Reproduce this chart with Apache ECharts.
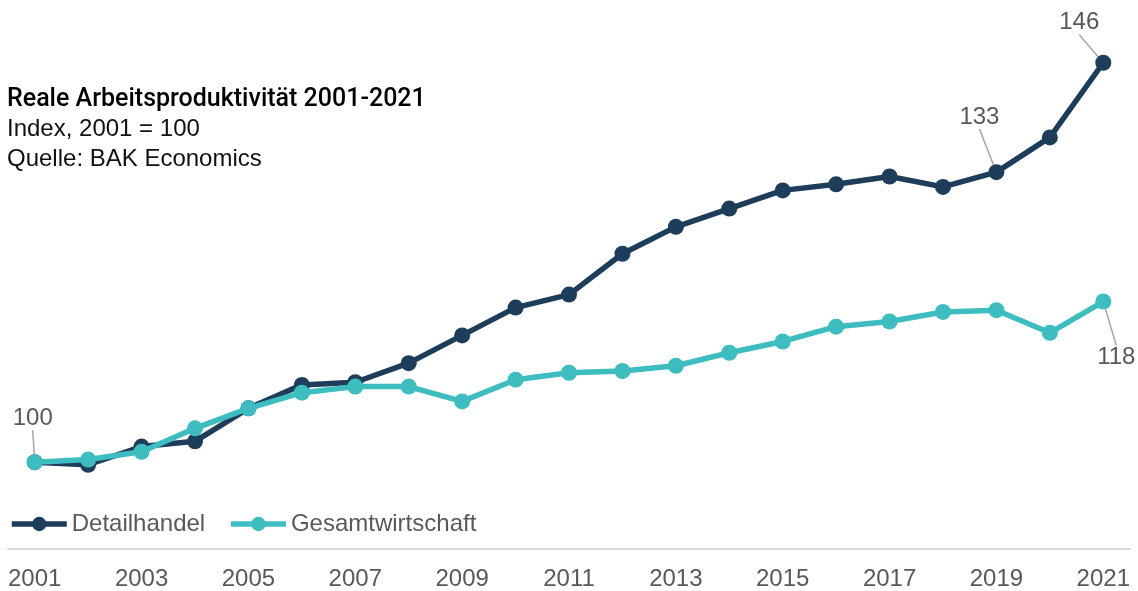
<!DOCTYPE html>
<html>
<head>
<meta charset="utf-8">
<script src="https://cdn.jsdelivr.net/npm/echarts@6/dist/echarts.min.js"></script>
<style>
  html, body { margin: 0; padding: 0; background: #fff; }
  #main { width: 1138px; height: 591px; }
</style>
</head>
<body>
<div id="main"></div>
<script>
// Jahre
const years = ['2001', '2002', '2003', '2004', '2005', '2006', '2007', '2008', '2009', '2010',
  '2011', '2012', '2013', '2014', '2015', '2016', '2017', '2018', '2019', '2020', '2021']

// Index, 2001 = 100
const detailhandel = [100, 99.7, 101.8, 102.4, 106.2, 108.9, 109.2, 111.4, 114.6, 117.8,
  119.3, 124.0, 127.1, 129.2, 131.3, 132.0, 132.9, 131.7, 133.4, 137.4, 146.0]
const gesamtwirtschaft = [100, 100.3, 101.2, 103.9, 106.2, 108.0, 108.7, 108.7, 107.0, 109.5,
  110.3, 110.5, 111.1, 112.6, 113.9, 115.6, 116.2, 117.3, 117.5, 114.9, 118.5]

// welche Punkte beschriftet werden
const labelsDetail = { 0: '100', 18: '133', 20: '146' }
const labelsGesamt = { 20: '118' }

const font = 'Liberation Sans'
const grey = '#595959'

const makeData = (values, labels, pos) =>
  values.map((v, i) => {
    if (labels[i] === undefined) return v
    return {
      value: v,
      label: { show: true, position: pos, formatter: labels[i] },
      labelLine: { show: true }
    }
  })

const chart = echarts.init(document.getElementById('main'))
chart.setOption({
  animation: false,
  textStyle: { fontFamily: font },
  title: {
    text: 'Reale Arbeitsproduktivität 2001-2021',
    subtext: 'Index, 2001 = 100\nQuelle: BAK Economics',
    left: 2,
    top: 82,
    itemGap: 2,
    textStyle: { fontFamily: 'Roboto', fontSize: 25, fontWeight: 500, color: '#000', lineHeight: 25 },
    subtextStyle: { fontFamily: font, fontSize: 24, color: '#111', lineHeight: 30 }
  },
  legend: {
    left: 4,
    top: 507,
    itemWidth: 55,
    itemHeight: 18,
    itemGap: 23,
    textStyle: { fontFamily: font, fontSize: 24, color: grey },
    lineStyle: { width: 5.5 },
    data: ['Detailhandel', 'Gesamtwirtschaft']
  },
  grid: { left: 8, right: 8, top: 28, bottom: 42 },
  xAxis: {
    type: 'category',
    data: years,
    boundaryGap: true,
    axisLine: { lineStyle: { color: '#d9d9d9', width: 2 } },
    axisTick: { show: false },
    axisLabel: { interval: 1, color: grey, fontSize: 24, margin: 18 }
  },
  yAxis: {
    type: 'value',
    min: 90,
    max: 150,
    show: false,
    splitLine: { show: false }
  },
  series: [
    {
      name: 'Detailhandel',
      type: 'line',
      data: makeData(detailhandel, labelsDetail, 'top'),
      symbol: 'circle',
      symbolSize: 16,
      color: '#1d3d5a',
      lineStyle: { width: 5.5 },
      label: { color: grey, fontSize: 24 },
      labelLine: { lineStyle: { color: '#a6a6a6', width: 1.5 } },
      labelLayout: function (p) {
        if (p.dataIndex === 0) return { dx: -2, dy: -19 }
        if (p.dataIndex === 18) return { dx: -17, dy: -30 }
        if (p.dataIndex === 20) return { dx: -24, dy: -15 }
        return {}
      },
      z: 2
    },
    {
      name: 'Gesamtwirtschaft',
      type: 'line',
      data: makeData(gesamtwirtschaft, labelsGesamt, 'bottom'),
      symbol: 'circle',
      symbolSize: 16,
      color: '#3dbdc0',
      lineStyle: { width: 5.5 },
      label: { color: grey, fontSize: 24 },
      labelLine: { lineStyle: { color: '#a6a6a6', width: 1.5 } },
      labelLayout: function (p) {
        if (p.dataIndex === 20) return { dx: 13, dy: 31 }
        return {}
      },
      z: 3
    }
  ]
})
</script>
</body>
</html>
